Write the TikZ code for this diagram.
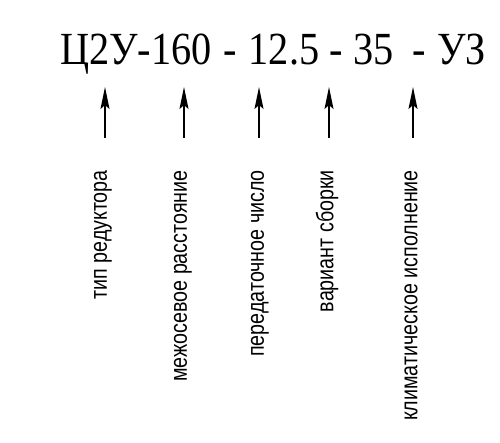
\documentclass[tikz,border=0pt]{standalone}
\usepackage{fontspec}
\setmainfont{Liberation Serif}
\newfontfamily\codeserif[FakeStretch=0.876]{Liberation Serif}
\newfontfamily\narrowsans[FakeStretch=0.82]{Liberation Sans}
\usetikzlibrary{arrows.meta,positioning}

\begin{document}
\begin{tikzpicture}[x=1pt,y=-1pt,
                    pointer/.style={line width=1.6pt,-{Stealth[length=22pt,width=9pt,inset=4pt]}},
                    part/.style={anchor=base,inner sep=0pt,font=\codeserif\fontsize{46}{46}\selectfont},
                    legend/.style={rotate=90,anchor=east,inner sep=0pt,
                                   font=\narrowsans\fontsize{24}{24}\selectfont}]
                    \useasboundingbox (0,0) rectangle (500,442);
                    \node [part] (model) at (136,64) {Ц2У-160};
                    \node [part] (dash1) at (230,64) {-};
                    \node [part] (ratiov) at (284,64) {12.5};
                    \node [part] (dash2) at (336,64) {-};
                    \node [part] (assemblyv) at (373.5,64) {35};
                    \node [part] (dash3) at (419,64) {-};
                    \node [part] (climatev) at (461.5,64) {УЗ};
                    \coordinate (t1) at (105,87);
                    \coordinate (b1) at (105,138);
                    \coordinate (t2) at (184,87);
                    \coordinate (b2) at (184,138);
                    \coordinate (t3) at (259,87);
                    \coordinate (b3) at (259,138);
                    \coordinate (t4) at (329,87);
                    \coordinate (b4) at (329,138);
                    \coordinate (t5) at (413,87);
                    \coordinate (b5) at (413,138);
                    \draw [pointer] (b1) -- (t1);
                    \draw [pointer] (b2) -- (t2);
                    \draw [pointer] (b3) -- (t3);
                    \draw [pointer] (b4) -- (t4);
                    \draw [pointer] (b5) -- (t5);
                    \node [legend] (type) at (103,170) {тип редуктора};
                    \node [legend] (axis) at (183,170) {межосевое расстояние};
                    \node [legend] (ratio) at (260,170) {передаточное число};
                    \node [legend] (assembly) at (327,170) {вариант сборки};
                    \node [legend] (climate) at (411,170) {климатическое исполнение};
\end{tikzpicture}
\end{document}
